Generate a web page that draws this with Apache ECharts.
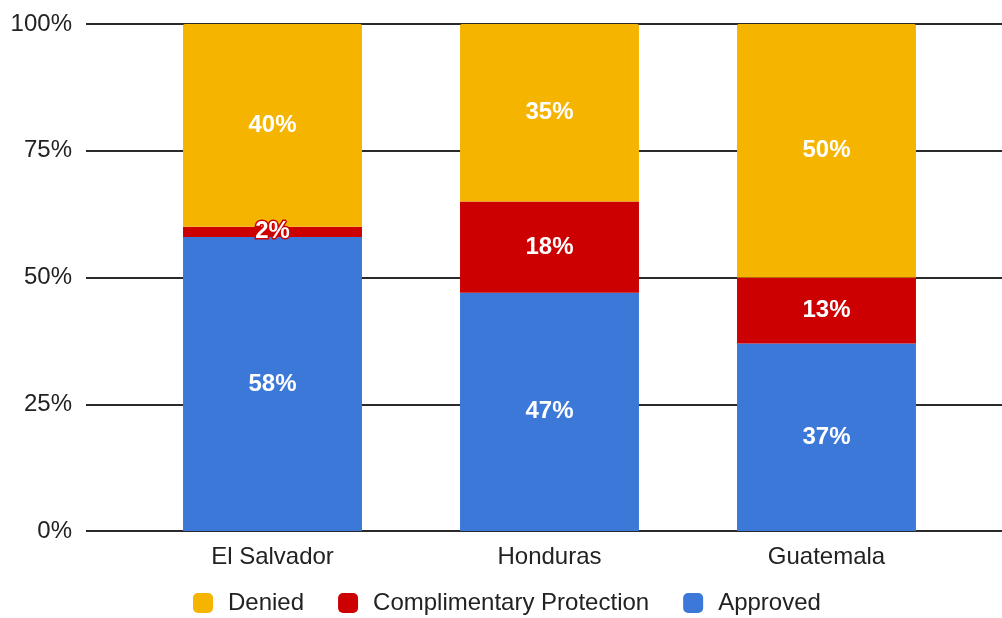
<!DOCTYPE html>
<html>
<head>
<meta charset="utf-8">
<script src="https://cdn.jsdelivr.net/npm/echarts@6/dist/echarts.min.js"></script>
<style>
  html, body { margin: 0; padding: 0; background: #fff; }
  #chart { width: 1002px; height: 618px; }
</style>
</head>
<body>
<div id="chart"></div>
<script>
// Asylum case outcomes by country of origin (share of decisions)
const countries = ['El Salvador', 'Honduras', 'Guatemala'];
const approved = [58, 47, 37];
const complimentary = [2, 18, 13];
const denied = [40, 35, 50];
const yTicks = [0, 25, 50, 75, 100];

const FONT = '"Liberation Sans", Arial, sans-serif';
const colors = { approved: '#3c78d8', complimentary: '#cc0000', denied: '#f4b400' };

const chart = echarts.init(document.getElementById('chart'), null, { renderer: 'canvas' });

function barLabel(extra) {
  return Object.assign({
    show: true,
    position: 'inside',
    color: '#ffffff',
    fontFamily: FONT,
    fontSize: 24,
    fontWeight: 'bold',
    formatter: p => p.value + '%'
  }, extra || {});
}

chart.setOption({
  animation: false,
  textStyle: { fontFamily: FONT },
  grid: [
    // full-width grid carrying the value axis and its gridlines
    { left: 86, right: 0, top: 24, bottom: 87 },
    // narrower grid holding the bars and category labels
    { left: 134, right: 37, top: 24, bottom: 87 }
  ],
  xAxis: [
    { type: 'value', gridIndex: 0, min: 0, max: 1, show: false },
    {
      type: 'category', gridIndex: 1, data: countries,
      axisLine: { show: false },
      axisTick: { show: false },
      axisLabel: { color: '#222222', fontSize: 24, margin: 14, fontFamily: FONT }
    }
  ],
  yAxis: [
    {
      type: 'value', gridIndex: 0, min: yTicks[0], max: yTicks[yTicks.length - 1], interval: 25,
      axisLine: { show: false },
      axisTick: { show: false },
      axisLabel: { color: '#222222', fontSize: 24, margin: 14, fontFamily: FONT,
                   lineHeight: 28, verticalAlign: 'middle', padding: [4, 0, 0, 0],
                   formatter: v => v + '%' },
      splitLine: { show: true, lineStyle: { color: '#2a2a2a', width: 2 } }
    },
    {
      type: 'value', gridIndex: 1, min: 0, max: 100, show: false,
      splitLine: { show: false }
    }
  ],
  legend: {
    bottom: -2,
    left: 188,
    itemWidth: 20,
    itemHeight: 20,
    itemGap: 34,
    icon: 'roundRect',
    textStyle: { color: '#222222', fontSize: 24, fontFamily: FONT, padding: [0, 0, 0, 10] },
    data: ['Denied', 'Complimentary Protection', 'Approved']
  },
  series: [
    {
      name: 'Approved', type: 'bar', stack: 'total', xAxisIndex: 1, yAxisIndex: 1,
      data: approved, barWidth: '64.6%',
      itemStyle: { color: colors.approved },
      label: barLabel()
    },
    {
      name: 'Complimentary Protection', type: 'bar', stack: 'total', xAxisIndex: 1, yAxisIndex: 1,
      data: complimentary, barWidth: '64.6%',
      itemStyle: { color: colors.complimentary },
      label: barLabel({ textBorderColor: colors.complimentary, textBorderWidth: 3 }),
      labelLayout: { hideOverlap: false }
    },
    {
      name: 'Denied', type: 'bar', stack: 'total', xAxisIndex: 1, yAxisIndex: 1,
      data: denied, barWidth: '64.6%',
      itemStyle: { color: colors.denied, borderRadius: [2, 2, 0, 0] },
      label: barLabel()
    }
  ]
});
</script>
</body>
</html>
